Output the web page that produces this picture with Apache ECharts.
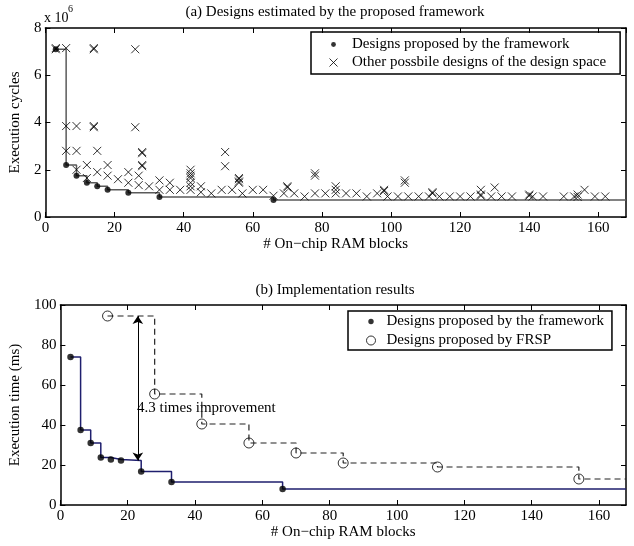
<!DOCTYPE html>
<html>
<head>
<meta charset="utf-8">
<script src="https://cdn.jsdelivr.net/npm/echarts@6/dist/echarts.min.js"></script>
<style>
  html, body { margin: 0; padding: 0; background: #fff; }
  #chart { width: 634px; height: 546px; }
</style>
</head>
<body>
<div id="chart"></div>
<script>
// ---- (a) estimated designs: RAM blocks vs execution cycles (x 10^6) ----
const estFrameworkRam    = [3, 6, 9, 12, 15, 18, 24, 33, 66];
const estFrameworkCycles = [7.1, 2.2, 1.75, 1.45, 1.3, 1.15, 1.03, 0.85, 0.72];

const otherRam = [
  3, 3, 6, 6, 6, 9, 9, 9, 12, 12, 14, 14, 14, 14, 15, 15, 18, 18, 21, 24, 24,
  26, 26, 27, 27, 28, 28, 28, 28, 30, 33, 33, 36, 36, 39,
  42, 42, 42, 42, 42, 42, 42, 45, 45, 48, 51, 52, 52, 54, 56, 56, 56, 56, 57,
  60, 63, 66, 69, 70, 70, 72, 75, 78, 78, 78, 81, 84, 84, 84, 87, 90, 93, 96,
  98, 98, 99, 102, 104, 104, 105, 108, 111, 112, 112, 114, 117, 120, 123,
  126, 126, 126, 129, 130, 132, 135, 140, 140, 141, 144, 150, 153, 154, 154,
  156, 159, 162
];
const otherCycles = [
  7.15, 7.1, 7.15, 3.85, 2.8, 3.85, 2.8, 2.0, 2.2, 1.65, 7.15, 7.1, 3.85, 3.8, 2.8, 1.9, 2.2, 1.75, 1.6, 1.9, 1.45,
  7.1, 3.8, 1.75, 1.35, 2.75, 2.7, 2.2, 2.15, 1.3, 1.55, 1.15, 1.45, 1.15, 1.15,
  2.0, 1.85, 1.75, 1.65, 1.45, 1.3, 1.15, 1.3, 1.05, 1.0, 1.15, 2.75, 2.15, 1.15, 1.65, 1.6, 1.5, 1.45, 1.0,
  1.15, 1.15, 0.9, 1.0, 1.3, 1.25, 1.0, 0.87, 1.85, 1.75, 1.0, 1.0, 1.3, 1.15, 1.0, 1.0, 1.0, 0.87, 1.0,
  1.15, 1.1, 0.87, 0.87, 1.55, 1.45, 0.87, 0.87, 0.87, 1.05, 1.0, 0.87, 0.87, 0.87, 0.87,
  1.15, 0.95, 0.9, 0.87, 1.25, 0.87, 0.87, 0.95, 0.9, 0.87, 0.87, 0.87, 0.87, 0.95, 0.85,
  1.15, 0.87, 0.87
];

// ---- (b) implementation results: RAM blocks vs execution time (ms) ----
const implFrameworkRam  = [3, 6, 9, 12, 15, 18, 24, 33, 66];
const implFrameworkTime = [74, 37.5, 31, 23.7, 22.8, 22.2, 16.7, 11.5, 8];
const frspRam  = [14, 28, 42, 56, 70, 84, 112, 154];
const frspTime = [94.5, 55.5, 40.5, 31, 26, 21, 19, 13];

// axis ranges and tick steps
const ramRange    = [0, 168];
const ramStep     = 20;
const cyclesRange = [0, 8];
const cyclesStep  = 2;
const timeRange   = [0, 100];
const timeStep    = 20;

const FONT = 'Liberation Serif';
const BLACK = '#000';
const NAME_FRAMEWORK = 'Designs proposed by the framework';
const NAME_OTHER = 'Other possbile designs of the design space';
const NAME_FRSP = 'Designs proposed by FRSP';

const CROSS = 'path://M0,0L10,10M10,0L0,10';
// small dot inside a padded 10x10 box so the legend icon stays small
const DOT_ICON = 'path://M0,0M10,10M2,5A3,3,0,1,0,8,5A3,3,0,1,0,2,5Z';

const zip = (xs, ys) => xs.map((x, i) => [x, ys[i]]);
// stair line that carries the last value on to the right edge of the axis
const stairs = (xs, ys) => zip(xs, ys).concat([[ramRange[1], ys[ys.length - 1]]]);

// arrow between the best FRSP design and the matching framework design
const arrowTop = frspTime[0];
const arrowBottom = implFrameworkTime[5];
const ARROW_X = 23;
const improvement = (arrowTop / arrowBottom).toFixed(1);

const textStyle = { fontFamily: FONT, fontSize: 15, color: BLACK, fontWeight: 'normal' };

function xAxes(gridIndex, nameGap) {
  const common = {
    type: 'value', gridIndex,
    min: ramRange[0], max: ramRange[1], interval: ramStep,
    axisLine: { show: true, onZero: false, lineStyle: { color: BLACK, width: 1.5 } },
    axisTick: { show: true, inside: true, length: 5, lineStyle: { color: BLACK, width: 1 } },
    splitLine: { show: false }
  };
  return [
    Object.assign({}, common, {
      position: 'bottom',
      axisLabel: { color: BLACK, fontFamily: FONT, fontSize: 15, margin: 4, showMaxLabel: false },
      name: '# On\u2212chip RAM blocks', nameLocation: 'middle', nameGap,
      nameTextStyle: { fontFamily: FONT, fontSize: 15, color: BLACK }
    }),
    Object.assign({}, common, { position: 'top', axisLabel: { show: false } })
  ];
}

function yAxes(gridIndex, range, step, name) {
  const common = {
    type: 'value', gridIndex,
    min: range[0], max: range[1], interval: step,
    axisLine: { show: true, onZero: false, lineStyle: { color: BLACK, width: 1.5 } },
    axisTick: { show: true, inside: true, length: 5, lineStyle: { color: BLACK, width: 1 } },
    splitLine: { show: false }
  };
  return [
    Object.assign({}, common, {
      position: 'left',
      axisLabel: { color: BLACK, fontFamily: FONT, fontSize: 15, margin: 4 },
      name, nameLocation: 'middle', nameGap: 18,
      nameTextStyle: { fontFamily: FONT, fontSize: 15, color: BLACK }
    }),
    Object.assign({}, common, { position: 'right', axisLabel: { show: false } })
  ];
}

const option = {
  animation: false,
  backgroundColor: '#fff',
  title: [
    { text: '(a) Designs estimated by the proposed framework', left: 335, top: 5, padding: 0,
      textAlign: 'center', textStyle },
    { text: '(b) Implementation results', left: 335, top: 283, padding: 0,
      textAlign: 'center', textStyle }
  ],
  grid: [
    { left: 44, right: 8, top: 28, height: 189 },
    { left: 44, right: 8, top: 305, height: 200 }
  ],
  xAxis: xAxes(0, 17).concat(xAxes(1, 19)),
  yAxis: yAxes(0, cyclesRange, cyclesStep, 'Execution cycles')
    .concat(yAxes(1, timeRange, timeStep, 'Execution time (ms)')),
  legend: [
    {
      orient: 'vertical', left: 311, top: 32,
      padding: [5, 14, 4, 18], itemGap: 3,
      itemWidth: 27, itemHeight: 8, symbolKeepAspect: true,
      borderColor: BLACK, borderWidth: 1.5, borderRadius: 0,
      selectedMode: false, textStyle: { fontFamily: FONT, fontSize: 15, color: BLACK },
      data: [
        { name: NAME_FRAMEWORK, icon: DOT_ICON, itemStyle: { color: BLACK, borderWidth: 0 } },
        { name: NAME_OTHER, icon: CROSS, itemStyle: { color: BLACK, borderColor: BLACK, borderWidth: 1 } }
      ]
    },
    {
      orient: 'vertical', left: 348, top: 311,
      padding: [3, 8, 2, 18], itemGap: 4,
      itemWidth: 21, itemHeight: 9, symbolKeepAspect: true,
      borderColor: BLACK, borderWidth: 1.5, borderRadius: 0,
      selectedMode: false, textStyle: { fontFamily: FONT, fontSize: 15, color: BLACK },
      data: [
        { name: NAME_FRAMEWORK, icon: DOT_ICON, itemStyle: { color: BLACK, borderWidth: 0 } },
        { name: NAME_FRSP, icon: 'circle', itemStyle: { color: 'rgba(0,0,0,0)', borderColor: BLACK, borderWidth: 1 } }
      ]
    }
  ],
  series: [
    // (a) stair line through the framework's designs
    {
      type: 'line', name: 'estimate-stairs', xAxisIndex: 0, yAxisIndex: 0,
      step: 'end', showSymbol: false, silent: true,
      lineStyle: { color: '#5a5a5a', width: 1.5 },
      data: stairs(estFrameworkRam, estFrameworkCycles), z: 2
    },
    {
      type: 'scatter', name: NAME_OTHER, xAxisIndex: 0, yAxisIndex: 0,
      symbol: CROSS, symbolSize: 8,
      itemStyle: { color: BLACK, borderColor: BLACK, borderWidth: 1 },
      data: zip(otherRam, otherCycles), z: 3
    },
    {
      type: 'scatter', name: NAME_FRAMEWORK, xAxisIndex: 0, yAxisIndex: 0,
      symbol: 'circle', symbolSize: 6,
      itemStyle: { color: BLACK },
      data: zip(estFrameworkRam, estFrameworkCycles), z: 4
    },
    // (b) implementation results
    {
      type: 'line', name: 'impl-stairs', xAxisIndex: 2, yAxisIndex: 2,
      step: 'end', showSymbol: false, silent: true,
      lineStyle: { color: '#1f1f6e', width: 1.5 },
      data: stairs(implFrameworkRam, implFrameworkTime), z: 2
    },
    {
      type: 'line', name: 'frsp-stairs', xAxisIndex: 2, yAxisIndex: 2,
      step: 'end', showSymbol: false, silent: true,
      lineStyle: { color: '#222', width: 1.2, type: [6, 4] },
      data: stairs(frspRam, frspTime), z: 2
    },
    {
      type: 'scatter', name: NAME_FRAMEWORK, xAxisIndex: 2, yAxisIndex: 2,
      symbol: 'circle', symbolSize: 6.5,
      itemStyle: { color: BLACK },
      data: zip(implFrameworkRam, implFrameworkTime), z: 4
    },
    {
      type: 'scatter', name: NAME_FRSP, xAxisIndex: 2, yAxisIndex: 2,
      symbol: 'circle', symbolSize: 10,
      itemStyle: { color: 'rgba(0,0,0,0)', borderColor: BLACK, borderWidth: 1 },
      data: zip(frspRam, frspTime), z: 4,
      markLine: {
        silent: true, animation: false,
        symbol: ['arrow', 'arrow'], symbolSize: 8,
        label: { show: false },
        lineStyle: { color: BLACK, type: 'solid', width: 1 },
        data: [[{ coord: [ARROW_X, arrowTop] }, { coord: [ARROW_X, arrowBottom] }]]
      }
    }
  ],
  graphic: [
    { type: 'text', left: 44, top: 11, style: { text: 'x 10', fontFamily: FONT, fontSize: 14, fill: BLACK } },
    { type: 'text', left: 68, top: 4, style: { text: '6', fontFamily: FONT, fontSize: 10, fill: BLACK } },
    { type: 'text', left: 137, top: 401,
      style: { text: improvement + ' times improvement', fontFamily: FONT, fontSize: 15, fill: BLACK } }
  ]
};

const chart = echarts.init(document.getElementById('chart'), null, { renderer: 'canvas' });
chart.setOption(option);
</script>
</body>
</html>
